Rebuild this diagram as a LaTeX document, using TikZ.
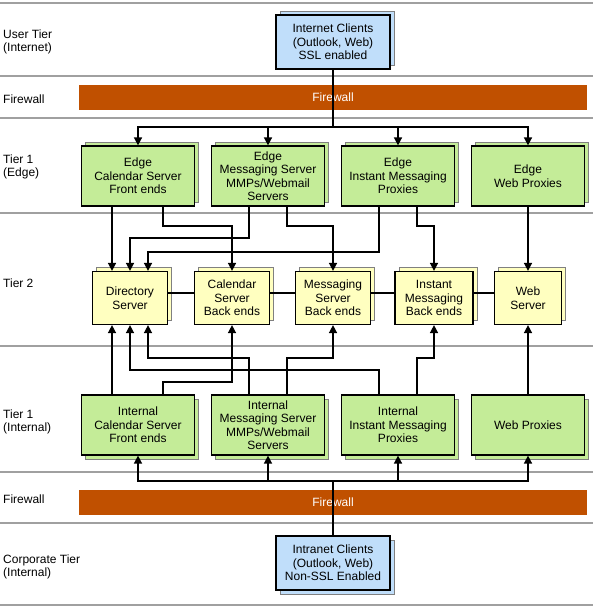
\documentclass[tikz,border=0pt]{standalone}
\usepackage{fontspec}
\setmainfont{Liberation Sans}
\usetikzlibrary{arrows.meta,shadows,calc}
\definecolor{cblue}{RGB}{192,222,250}
\definecolor{cgreen}{RGB}{196,236,152}
\definecolor{cyellow}{RGB}{255,255,192}
\definecolor{corange}{RGB}{192,80,0}
\definecolor{csep}{RGB}{160,160,160}
\begin{document}
\begin{tikzpicture}[x=1pt,y=-1pt,
  txt/.style={font=\fontsize{12}{13.5}\selectfont},
  lbl/.style={txt,anchor=west,align=left,inner sep=0pt},
  box/.style={txt,draw=black,line width=1.2pt,align=center,inner sep=0pt},
  upsh/.style={general shadow={shadow xshift=4pt,shadow yshift=4pt,fill=#1,draw=black!50,line width=0.7pt}},
  dnsh/.style={general shadow={shadow xshift=4pt,shadow yshift=-4pt,fill=#1,draw=black!50,line width=0.7pt}},
  client/.style={box,fill=cblue,minimum width=114pt,minimum height=54pt},
  tierone/.style={box,fill=cgreen,minimum width=113pt,minimum height=60pt},
  tiertwo/.style={box,fill=cyellow,minimum height=53pt},
  fwbar/.style={txt,fill=corange,text=white,minimum width=508pt,minimum height=25pt,inner sep=0pt},
  sepline/.style={draw=csep,line width=2.6pt},
  con/.style={line width=1.5pt},
  arr/.style={con,-{Triangle[length=8pt,width=8pt]}}
]
\useasboundingbox (0,0) rectangle (593,607);
% separators
\foreach \yy in {3,76,118,213,346,472,523,605}
  \draw[sepline] (0,\yy) -- (593,\yy);
% left labels
\node[lbl] (lUser) at (3,42) {User Tier\\(Internet)};
\node[lbl] (lFw1) at (3,99) {Firewall};
\node[lbl] (lEdge) at (3,167) {Tier 1\\(Edge)};
\node[lbl] (lT2) at (3,283) {Tier 2};
\node[lbl] (lInt) at (3,422) {Tier 1\\(Internal)};
\node[lbl] (lFw2) at (3,499) {Firewall};
\node[lbl] (lCorp) at (3,567) {Corporate Tier\\(Internal)};
% firewalls
\node[fwbar] (fw1) at (333,97.5) {Firewall};
\node[fwbar] (fw2) at (333,502) {Firewall};
% clients
\node[client,upsh=cblue] (inet) at (333,42) {Internet Clients\\(Outlook, Web)\\SSL enabled};
\node[client,dnsh=cblue] (intra) at (333,563) {Intranet Clients\\(Outlook, Web)\\Non-SSL Enabled};
% edge tier
\node[tierone,upsh=cgreen] (e1) at (138,176) {Edge\\Calendar Server\\Front ends};
\node[tierone,upsh=cgreen] (e2) at (268,176) {Edge\\Messaging Server\\MMPs/Webmail\\Servers};
\node[tierone,upsh=cgreen] (e3) at (398,176) {Edge\\Instant Messaging\\Proxies};
\node[tierone,upsh=cgreen] (e4) at (528,176) {Edge\\Web Proxies};
% tier 2
\node[tiertwo,upsh=cyellow,minimum width=75pt] (dir) at (130,298) {Directory\\Server};
\node[tiertwo,upsh=cyellow,minimum width=75pt] (cal) at (232,298) {Calendar\\Server\\Back ends};
\node[tiertwo,upsh=cyellow,minimum width=75pt] (msg) at (333,298) {Messaging\\Server\\Back ends};
\node[tiertwo,upsh=cyellow,minimum width=78pt] (im) at (434,298) {Instant\\Messaging\\Back ends};
\node[tiertwo,upsh=cyellow,minimum width=67pt] (web) at (528,298) {Web\\Server};
% internal tier
\node[tierone,dnsh=cgreen] (i1) at (138,425) {Internal\\Calendar Server\\Front ends};
\node[tierone,dnsh=cgreen] (i2) at (268,425) {Internal\\Messaging Server\\MMPs/Webmail\\Servers};
\node[tierone,dnsh=cgreen] (i3) at (398,425) {Internal\\Instant Messaging\\Proxies};
\node[tierone,dnsh=cgreen] (i4) at (528,425) {Web Proxies};
% tier 2 links
\draw[con] ([yshift=5pt]dir.east) -- ([yshift=5pt]cal.west);
\draw[con] ([yshift=5pt]cal.east) -- ([yshift=5pt]msg.west);
\draw[con] ([yshift=5pt]msg.east) -- ([yshift=5pt]im.west);
\draw[con] ([yshift=5pt]im.east) -- ([yshift=5pt]web.west);
% routing levels
\coordinate (tj) at (333,127);
\coordinate (bj) at (333,481);
\coordinate (hA) at (0,226);
\coordinate (hB) at (0,238);
\coordinate (hC) at (0,252);
\coordinate (hD) at (0,358);
\coordinate (hE) at (0,370);
\coordinate (hF) at (0,382);
% directory arrow points
\coordinate (dirA) at ($(dir.north)+(-18,0)$);
\coordinate (dirC) at ($(dir.north)+(18,0)$);
\coordinate (dirAs) at ($(dir.south)+(-18,0)$);
\coordinate (dirCs) at ($(dir.south)+(18,0)$);
% top distribution
\draw[con] (inet.south) -- (tj);
\draw[arr] (tj) -| (e1.north);
\draw[arr] (tj) -| (e2.north);
\draw[arr] (tj) -| (e3.north);
\draw[arr] (tj) -| (e4.north);
% edge to tier 2
\draw[arr] (e1.south -| dirA) -- (dirA);
\draw[arr] ([xshift=25pt]e1.south) |- (hA -| cal.north) -- (cal.north);
\draw[arr] ([xshift=-19pt]e2.south) |- (hB -| dir.north) -- (dir.north);
\draw[arr] ([xshift=19pt]e2.south) |- (hA -| msg.north) -- (msg.north);
\draw[arr] ([xshift=-19pt]e3.south) |- (hC -| dirC) -- (dirC);
\draw[arr] ([xshift=19pt]e3.south) |- (hA -| im.north) -- (im.north);
\draw[arr] (e4.south) -- (web.north);
% internal to tier 2
\draw[arr] (i1.north -| dirAs) -- (dirAs);
\draw[arr] ([xshift=25pt]i1.north) |- (hF -| cal.south) -- (cal.south);
\draw[arr] ([xshift=-19pt]i2.north) |- (hD -| dirCs) -- (dirCs);
\draw[arr] ([xshift=19pt]i2.north) |- (hD -| msg.south) -- (msg.south);
\draw[arr] ([xshift=-19pt]i3.north) |- (hE -| dir.south) -- (dir.south);
\draw[arr] ([xshift=19pt]i3.north) |- (hD -| im.south) -- (im.south);
\draw[arr] (i4.north) -- (web.south);
% bottom distribution
\draw[con] (intra.north) -- (bj);
\draw[arr] (bj) -| (i1.south);
\draw[arr] (bj) -| (i2.south);
\draw[arr] (bj) -| (i3.south);
\draw[arr] (bj) -| (i4.south);
\end{tikzpicture}
\end{document}
